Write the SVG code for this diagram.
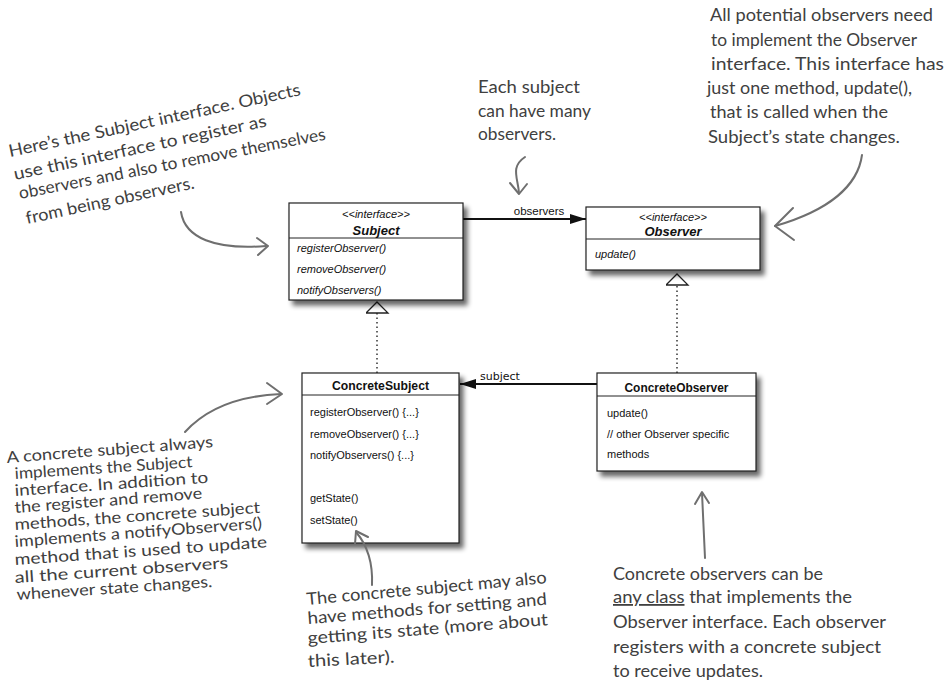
<svg xmlns="http://www.w3.org/2000/svg" width="945" height="687" viewBox="0 0 945 687">
<defs>
<style>
.box{fill:#fff;stroke:#222;stroke-width:1.2;filter:url(#shadow)}
.div{stroke:#222;stroke-width:1}
.st{font-family:"Liberation Sans",Arial,sans-serif;font-size:11px;font-style:italic;fill:#111;text-anchor:middle}
.nmi{font-family:"Liberation Sans",Arial,sans-serif;font-size:13px;font-style:italic;font-weight:bold;fill:#111;text-anchor:middle}
.nm{font-family:"Liberation Sans",Arial,sans-serif;font-size:13px;font-weight:bold;fill:#111;text-anchor:middle}
.mi{font-family:"Liberation Sans",Arial,sans-serif;font-size:11px;font-style:italic;fill:#111}
.m{font-family:"Liberation Sans",Arial,sans-serif;font-size:11px;fill:#111}
.lbl{font-family:"Liberation Sans",Arial,sans-serif;font-size:11.5px;fill:#111}
.lbl2{font-family:"DejaVu Sans",sans-serif;font-size:11px;fill:#111}
.assoc{stroke:#111;stroke-width:2;fill:none}
.real{stroke:#333;stroke-width:1.5;stroke-dasharray:1.5 3;fill:none}
.hw{font-family:"Lato","Open Sans",sans-serif;font-size:18px;fill:#404040}
.hwm{font-family:"Lato","Open Sans",sans-serif;font-size:17px;fill:#404040}
.hws{font-family:"Lato","Open Sans",sans-serif;font-size:16px;fill:#404040}
.pen{stroke:#6f6f6f;stroke-width:2;fill:none;stroke-linecap:round;stroke-linejoin:round}
</style>
<filter id="shadow" x="-10%" y="-10%" width="130%" height="140%">
<feGaussianBlur in="SourceAlpha" stdDeviation="2.5"/>
<feOffset dx="4" dy="5"/>
<feComponentTransfer><feFuncA type="linear" slope="0.6"/></feComponentTransfer>
<feMerge><feMergeNode/><feMergeNode in="SourceGraphic"/></feMerge>
</filter>
<marker id="filled" markerUnits="userSpaceOnUse" markerWidth="16" markerHeight="10" refX="16" refY="5" orient="auto">
<path d="M0,0 L16,5 L0,10 z" fill="#111"/>
</marker>
<marker id="hollow" markerUnits="userSpaceOnUse" markerWidth="13" markerHeight="24" refX="12" refY="11.5" orient="auto">
<path d="M1,0.5 L12,11.5 L1,22.5 z" fill="#fff" stroke="#222" stroke-width="1.3"/>
</marker>
</defs>
<rect width="945" height="687" fill="#fff"/>

<g id="connectors">
<g id="observers-assoc">
<line class="assoc" x1="463" y1="219" x2="586" y2="219" marker-end="url(#filled)"/>
<text class="lbl" x="539" y="215" text-anchor="middle">observers</text>
</g>
<g id="subject-assoc">
<line class="assoc" x1="597" y1="384" x2="460" y2="384" marker-end="url(#filled)"/>
<text class="lbl2" x="500" y="380" text-anchor="middle">subject</text>
</g>
<line id="cs-realizes" class="real" x1="377" y1="373" x2="377" y2="302" marker-end="url(#hollow)"/>
<line id="co-realizes" class="real" x1="677" y1="373" x2="677" y2="274" marker-end="url(#hollow)"/>
</g>

<g id="subject">
<rect class="box" x="289" y="203" width="174" height="97"/>
<line class="div" x1="289" y1="238" x2="463" y2="238"/>
<text class="st" x="376" y="218">&lt;&lt;interface&gt;&gt;</text>
<text class="nmi" x="376" y="235">Subject</text>
<text class="mi" x="297" y="252">registerObserver()</text>
<text class="mi" x="297" y="273">removeObserver()</text>
<text class="mi" x="297" y="294">notifyObservers()</text>
</g>

<g id="observer">
<rect class="box" x="586" y="207" width="174" height="63"/>
<line class="div" x1="586" y1="239" x2="760" y2="239"/>
<text class="st" x="673" y="221">&lt;&lt;interface&gt;&gt;</text>
<text class="nmi" x="673" y="236">Observer</text>
<text class="mi" x="595" y="258">update()</text>
</g>

<g id="concreteSubject">
<rect class="box" x="302" y="373" width="157" height="170"/>
<line class="div" x1="302" y1="395" x2="459" y2="395"/>
<text class="nm" x="380.5" y="390" textLength="97" lengthAdjust="spacingAndGlyphs">ConcreteSubject</text>
<text class="m" x="310" y="416">registerObserver() {...}</text>
<text class="m" x="310" y="438">removeObserver() {...}</text>
<text class="m" x="310" y="459">notifyObservers() {...}</text>
<text class="m" x="310" y="502">getState()</text>
<text class="m" x="310" y="524">setState()</text>
</g>

<g id="concreteObserver">
<rect class="box" x="597" y="373" width="159" height="98"/>
<line class="div" x1="597" y1="396" x2="756" y2="396"/>
<text class="nm" x="676.5" y="392" textLength="104" lengthAdjust="spacingAndGlyphs">ConcreteObserver</text>
<text class="m" x="607" y="417">update()</text>
<text class="m" x="607" y="438">// other Observer specific</text>
<text class="m" x="607" y="458">methods</text>
</g>

<g id="note-subject-interface">
<text class="hwm" transform="translate(10,157) rotate(-12)" textLength="298" lengthAdjust="spacingAndGlyphs">Here’s the Subject interface. Objects</text>
<text class="hwm" transform="translate(15,180) rotate(-12)" textLength="258" lengthAdjust="spacingAndGlyphs">use this interface to register as</text>
<text class="hwm" transform="translate(20,199) rotate(-11)" textLength="312" lengthAdjust="spacingAndGlyphs">observers and also to remove themselves</text>
<text class="hwm" transform="translate(27,224) rotate(-12)" textLength="172" lengthAdjust="spacingAndGlyphs">from being observers.</text>
<path class="pen" d="M181,212 C185,238 215,250 266,246"/>
<path class="pen" d="M257,238 L268,246 L258,255"/>
</g>

<g id="note-many">
<text class="hw" x="478" y="93" textLength="102" lengthAdjust="spacingAndGlyphs">Each subject</text>
<text class="hw" x="478" y="117" textLength="113" lengthAdjust="spacingAndGlyphs">can have many</text>
<text class="hw" x="478" y="140" textLength="78" lengthAdjust="spacingAndGlyphs">observers.</text>
<path class="pen" d="M525,157 C510,167 518,178 519,193"/>
<path class="pen" d="M510,183 L519,194 L527,184"/>
</g>

<g id="note-observer-interface">
<text class="hw" x="710" y="21" textLength="223" lengthAdjust="spacingAndGlyphs">All potential observers need</text>
<text class="hw" x="711" y="46" textLength="206" lengthAdjust="spacingAndGlyphs">to implement the Observer</text>
<text class="hw" x="711" y="70" textLength="233" lengthAdjust="spacingAndGlyphs">interface. This interface has</text>
<text class="hw" x="707" y="94" textLength="205" lengthAdjust="spacingAndGlyphs">just one method, update(),</text>
<text class="hw" x="710" y="118" textLength="178" lengthAdjust="spacingAndGlyphs">that is called when the</text>
<text class="hw" x="708" y="143" textLength="192" lengthAdjust="spacingAndGlyphs">Subject’s state changes.</text>
<path class="pen" d="M862,155 C858,185 830,210 775,226"/>
<path class="pen" d="M793,208 L775,226 L794,240"/>
</g>

<g id="note-concrete-subject">
<text class="hws" transform="translate(7,463) rotate(-4.4)" textLength="207" lengthAdjust="spacingAndGlyphs">A concrete subject always</text>
<text class="hws" transform="translate(15,479) rotate(-3.8)" textLength="178" lengthAdjust="spacingAndGlyphs">implements the Subject</text>
<text class="hws" transform="translate(15,496) rotate(-3.9)" textLength="194" lengthAdjust="spacingAndGlyphs">interface. In addition to</text>
<text class="hws" transform="translate(15,513) rotate(-4.4)" textLength="188" lengthAdjust="spacingAndGlyphs">the register and remove</text>
<text class="hws" transform="translate(15,530) rotate(-4)" textLength="246" lengthAdjust="spacingAndGlyphs">methods, the concrete subject</text>
<text class="hws" transform="translate(15,547) rotate(-4.3)" textLength="248" lengthAdjust="spacingAndGlyphs">implements a notifyObservers()</text>
<text class="hws" transform="translate(15,565) rotate(-4)" textLength="253" lengthAdjust="spacingAndGlyphs">method that is used to update</text>
<text class="hws" transform="translate(15,583) rotate(-4)" textLength="214" lengthAdjust="spacingAndGlyphs">all the current observers</text>
<text class="hws" transform="translate(17,600) rotate(-3.8)" textLength="196" lengthAdjust="spacingAndGlyphs">whenever state changes.</text>
<path class="pen" d="M185,432 C205,410 235,396 281,394"/>
<path class="pen" d="M267,383 L282,394 L267,404"/>
</g>

<g id="note-state">
<text class="hwm" transform="translate(307,605) rotate(-5.2)" textLength="241" lengthAdjust="spacingAndGlyphs">The concrete subject may also</text>
<text class="hwm" transform="translate(308,624) rotate(-4.6)" textLength="240" lengthAdjust="spacingAndGlyphs">have methods for setting and</text>
<text class="hwm" transform="translate(308,644) rotate(-4.5)" textLength="241" lengthAdjust="spacingAndGlyphs">getting its state (more about</text>
<text class="hwm" transform="translate(308,667) rotate(-3)" textLength="87" lengthAdjust="spacingAndGlyphs">this later).</text>
<path class="pen" d="M372,585 C373,562 368,546 356,532"/>
<path class="pen" d="M355,544 L356,531 L368,537"/>
</g>

<g id="note-concrete-observer">
<text class="hw" x="613" y="580" textLength="210" lengthAdjust="spacingAndGlyphs">Concrete observers can be</text>
<text class="hw" x="613" y="603" textLength="239" lengthAdjust="spacingAndGlyphs"><tspan text-decoration="underline">any class</tspan> that implements the</text>
<text class="hw" x="613" y="628" textLength="273" lengthAdjust="spacingAndGlyphs">Observer interface. Each observer</text>
<text class="hw" x="613" y="653" textLength="268" lengthAdjust="spacingAndGlyphs">registers with a concrete subject</text>
<text class="hw" x="613" y="677" textLength="150" lengthAdjust="spacingAndGlyphs">to receive updates.</text>
<path class="pen" d="M705,558 L702,493"/>
<path class="pen" d="M695,504 L702,492 L709,503"/>
</g>
</svg>
